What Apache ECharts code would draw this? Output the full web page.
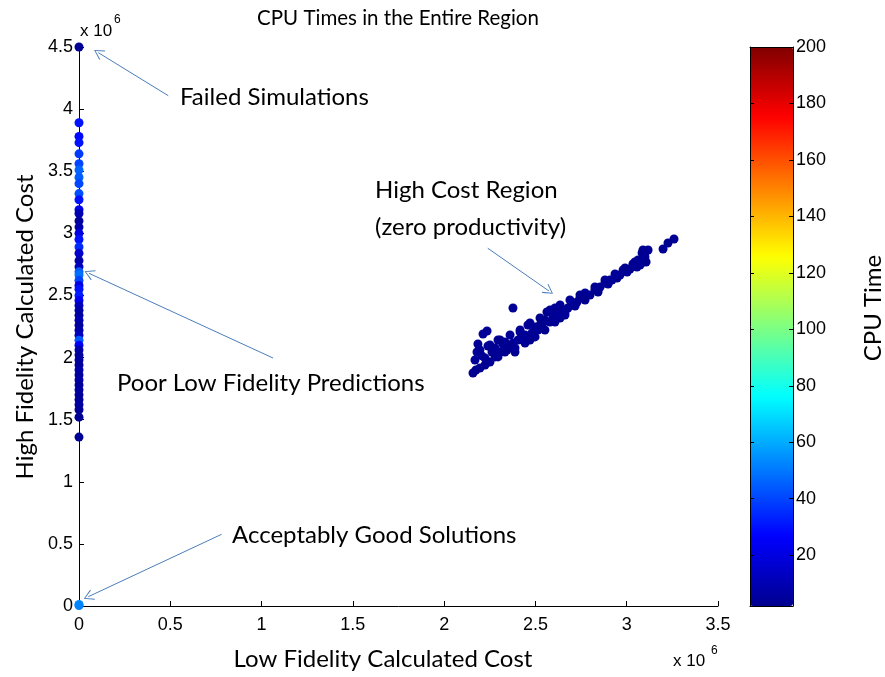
<!DOCTYPE html>
<html>
<head>
<meta charset="utf-8">
<script src="https://cdn.jsdelivr.net/npm/echarts@6/dist/echarts.min.js"></script>
<style>
  html, body { margin: 0; padding: 0; background: #fff; }
  #chart { width: 885px; height: 677px; }
</style>
</head>
<body>
<div id="chart"></div>
<script>
// Costs are stored in millions; both axes carry an "x 10^6" multiplier.

// Designs whose low-fidelity cost is zero (they sit on the vertical axis)
const columnHighCost = [4.50, 3.89, 3.78, 3.73, 3.64, 3.56, 3.51, 3.45, 3.40, 3.32,
  3.27, 3.19, 3.16, 3.10, 3.05, 3.00, 2.95, 2.89, 2.84, 2.78,
  2.73, 2.69, 2.665, 2.62, 2.58, 2.55, 2.50, 2.46, 2.42, 2.38,
  2.34, 2.30, 2.26, 2.22, 2.18, 2.14, 2.10, 2.06, 2.02, 1.98,
  1.94, 1.90, 1.86, 1.82, 1.78, 1.74, 1.70, 1.66, 1.62, 1.58,
  1.52, 1.36, 0.012, 0.004];
const columnCpuTime = [3, 30, 28, 30, 38, 40, 46, 45, 40, 42,
  30, 22, 10, 5, 8, 20, 30, 35, 15, 8,
  12, 45, 48, 40, 20, 30, 32, 25, 12, 8,
  6, 10, 5, 8, 12, 44, 25, 8, 5, 6,
  4, 8, 5, 7, 4, 6, 5, 4, 6, 4,
  3, 3, 55, 52];

// High cost region (zero productivity)
const regionLowCost = [3.259, 3.226, 3.199, 3.100, 3.084, 3.062, 3.073, 3.056, 3.089, 3.018,
  2.980, 2.963, 2.947, 2.908, 2.881, 2.854, 2.843, 2.799, 2.772, 2.761,
  2.728, 2.700, 2.744, 2.662, 2.635, 2.607, 2.596, 2.563, 2.541, 2.514,
  2.481, 2.470, 2.459, 2.432, 2.416, 2.388, 2.377, 2.377, 2.344, 2.333,
  2.295, 2.295, 2.262, 2.235, 2.213, 2.224, 2.224, 2.185, 2.196, 2.169,
  2.158, 2.251, 2.306, 2.361, 2.405, 2.443, 2.498, 2.552, 2.580, 2.618,
  2.678, 2.826, 2.919, 3.002, 2.180, 2.174, 2.279, 2.322, 2.525, 2.646,
  2.898, 3.034, 3.106, 2.207, 2.240,
  2.279, 2.333, 2.388, 2.443, 2.498, 2.552, 2.607, 2.662, 2.717, 2.772,
  2.196, 2.251, 2.306, 2.361, 2.416, 2.470, 2.525, 2.580, 2.635, 2.689,
  2.744, 2.826, 2.881, 2.936, 2.991, 3.045, 3.117, 3.089, 3.106];
const regionHighCost = [2.954, 2.922, 2.874, 2.810, 2.842, 2.785, 2.745, 2.729, 2.769, 2.713,
  2.705, 2.665, 2.640, 2.624, 2.600, 2.568, 2.528, 2.504, 2.520, 2.479,
  2.447, 2.439, 2.479, 2.367, 2.318, 2.399, 2.327, 2.367, 2.278, 2.222,
  2.198, 2.141, 2.262, 2.166, 2.206, 2.045, 2.117, 2.399, 2.061, 2.125,
  2.141, 2.005, 2.045, 2.214, 2.190, 1.996, 1.940, 2.109, 1.916, 1.980,
  1.876, 1.964, 2.045, 2.093, 2.141, 2.182, 2.246, 2.302, 2.286, 2.343,
  2.399, 2.544, 2.624, 2.689, 2.045, 1.900, 2.077, 2.109, 2.262, 2.383,
  2.592, 2.753, 2.769, 2.013, 2.093,
  2.005, 2.045, 2.077, 2.117, 2.166, 2.222, 2.286, 2.343, 2.415, 2.463,
  2.061, 2.101, 2.141, 2.182, 2.222, 2.278, 2.318, 2.383, 2.423, 2.463,
  2.504, 2.568, 2.624, 2.673, 2.721, 2.769, 2.866, 2.866, 2.858];
const regionCpuTime = [3, 2, 3, 4, 3, 2, 3, 3, 4, 2,
  3, 3, 2, 4, 3, 3, 2, 3, 4, 3,
  2, 3, 3, 4, 2, 3, 3, 2, 4, 3,
  3, 2, 3, 3, 4, 2, 3, 3, 2, 4,
  3, 3, 2, 3, 4, 3, 2, 3, 3, 4,
  2, 3, 3, 2, 4, 3, 3, 2, 3, 4,
  3, 2, 3, 3, 4, 2, 3, 3, 2, 3,
  4, 3, 2, 3, 3,
  3, 2, 4, 3, 3, 2, 3, 4, 3, 2,
  3, 3, 2, 4, 3, 3, 2, 3, 3, 4,
  2, 3, 3, 4, 2, 3, 3, 2, 3];

// Colour scale range for CPU time
const cpuRange = [2, 200];
// Jet colour map stops (evenly spaced)
const jetStops = ['#00008f', '#0000ff', '#0080ff', '#00ffff', '#80ff80',
  '#ffff00', '#ff8000', '#ff0000', '#800000'];

// Annotation arrows: [tail, head] in data units
const arrows = [
  [[0.489, 4.108], [0.106, 4.454]],
  [[1.063, 1.996], [0.055, 2.678]],
  [[2.239, 2.880], [2.574, 2.536]],
  [[0.781, 0.577], [0.051, 0.075]]
];

const columnData = columnHighCost.map((h, i) => [0, h, columnCpuTime[i]]);
const regionData = regionLowCost.map((l, i) => [l, regionHighCost[i], regionCpuTime[i]]);

const chart = echarts.init(document.getElementById('chart'), null, { renderer: 'canvas' });

const tickFont = { fontFamily: 'Liberation Sans', fontSize: 18, color: '#000' };
const textFont = 'Lato';
const arrowHead = 'path://M0,0 L-6,11 L-5,11.6 L0,2 L5,11.6 L6,11 Z';

function label(text, x, y, size, opts) {
  return Object.assign({
    type: 'text', x: x, y: y,
    style: { text: text, font: size + 'px ' + textFont, fill: '#000', align: 'left', verticalAlign: 'middle' }
  }, opts || {});
}

const option = {
  animation: false,
  backgroundColor: '#fff',
  grid: [
    { left: 79, top: 47, width: 639, height: 559, containLabel: false, outerBoundsMode: 'none' },
    { left: 750, top: 47, width: 43, height: 559, containLabel: false, outerBoundsMode: 'none' }
  ],
  xAxis: [
    {
      gridIndex: 0, type: 'value', min: 0, max: 3.5, interval: 0.5,
      axisLine: { show: true, onZero: false, lineStyle: { color: '#000', width: 1 } },
      axisTick: { show: true, inside: true, length: 5, lineStyle: { color: '#000' } },
      axisLabel: Object.assign({ margin: 10 }, tickFont),
      splitLine: { show: false }
    },
    {
      gridIndex: 1, type: 'value', min: 0, max: 1, position: 'bottom', z: 10,
      axisLine: { show: true, onZero: false, lineStyle: { color: '#000', width: 1 } },
      axisTick: { show: false }, axisLabel: { show: false }, splitLine: { show: false }
    },
    {
      gridIndex: 1, type: 'value', min: 0, max: 1, position: 'top', z: 10,
      axisLine: { show: true, onZero: false, lineStyle: { color: '#000', width: 1 } },
      axisTick: { show: false }, axisLabel: { show: false }, splitLine: { show: false }
    }
  ],
  yAxis: [
    {
      gridIndex: 0, type: 'value', min: 0, max: 4.5, interval: 0.5,
      axisLine: { show: true, onZero: false, lineStyle: { color: '#000', width: 1 } },
      axisTick: { show: true, inside: true, length: 5, lineStyle: { color: '#000' } },
      axisLabel: Object.assign({ margin: 6 }, tickFont),
      splitLine: { show: false }
    },
    {
      gridIndex: 1, type: 'value', min: cpuRange[0], max: cpuRange[1], splitNumber: 10,
      position: 'right', z: 10,
      axisLine: { show: true, onZero: false, lineStyle: { color: '#000', width: 1 } },
      axisTick: { show: true, inside: true, length: 4, lineStyle: { color: '#000' } },
      axisLabel: Object.assign({ margin: 3, formatter: v => (v % 20 === 0 ? String(v) : '') }, tickFont),
      splitLine: { show: false }
    },
    {
      gridIndex: 1, type: 'value', min: cpuRange[0], max: cpuRange[1], splitNumber: 10,
      position: 'left', z: 10,
      axisLine: { show: true, onZero: false, lineStyle: { color: '#000', width: 1 } },
      axisTick: { show: true, inside: true, length: 4, lineStyle: { color: '#000' } },
      axisLabel: { show: false },
      splitLine: { show: false }
    }
  ],
  visualMap: {
    type: 'continuous',
    min: cpuRange[0], max: cpuRange[1],
    dimension: 2,
    seriesIndex: [0, 1],
    calculable: false,
    hoverLink: false,
    left: 750, top: 47,
    padding: 0,
    itemWidth: 43, itemHeight: 559,
    text: null,
    showLabel: false,
    inRange: { color: jetStops }
  },
  series: [
    {
      type: 'scatter', xAxisIndex: 0, yAxisIndex: 0,
      symbol: 'circle', symbolSize: 9, clip: false,
      itemStyle: { opacity: 1 },
      data: columnData
    },
    {
      type: 'scatter', xAxisIndex: 0, yAxisIndex: 0,
      symbol: 'circle', symbolSize: 9, clip: false,
      itemStyle: { opacity: 1 },
      data: regionData
    },
    {
      type: 'scatter', xAxisIndex: 0, yAxisIndex: 0, data: [], silent: true,
      markLine: {
        silent: true,
        symbol: ['none', arrowHead],
        symbolSize: [11, 10],
        label: { show: false },
        lineStyle: { color: '#4a7ebb', width: 1, type: 'solid' },
        emphasis: { disabled: true },
        data: arrows.map(a => [{ coord: a[0] }, { coord: a[1] }])
      }
    }
  ],
  graphic: [
    label('CPU Times in the Entire Region', 398, 18, 20.5, { style: { text: 'CPU Times in the Entire Region', font: '20.5px ' + textFont, fill: '#000', align: 'center', verticalAlign: 'middle' } }),
    label('Low Fidelity Calculated Cost', 383, 659, 24, { style: { text: 'Low Fidelity Calculated Cost', font: '24px ' + textFont, fill: '#000', align: 'center', verticalAlign: 'middle' } }),
    label('High Fidelity Calculated Cost', 25, 327, 24, { rotation: Math.PI / 2, style: { text: 'High Fidelity Calculated Cost', font: '24px ' + textFont, fill: '#000', align: 'center', verticalAlign: 'middle' } }),
    label('CPU Time', 873, 308, 24, { rotation: Math.PI / 2, style: { text: 'CPU Time', font: '24px ' + textFont, fill: '#000', align: 'center', verticalAlign: 'middle' } }),
    label('Failed Simulations', 180, 97, 24),
    label('Poor Low Fidelity Predictions', 117, 383, 24),
    label('High Cost Region', 375, 190, 24),
    label('(zero productivity)', 375, 227, 24),
    label('Acceptably Good Solutions', 232, 535, 24),
    { type: 'text', x: 80, y: 31, style: { text: 'x 10', font: '17px Liberation Sans', fill: '#000', align: 'left', verticalAlign: 'middle' } },
    { type: 'text', x: 114, y: 20, style: { text: '6', font: '12px Liberation Sans', fill: '#000', align: 'left', verticalAlign: 'middle' } },
    { type: 'text', x: 673, y: 661, style: { text: 'x 10', font: '17px Liberation Sans', fill: '#000', align: 'left', verticalAlign: 'middle' } },
    { type: 'text', x: 711, y: 651, style: { text: '6', font: '12px Liberation Sans', fill: '#000', align: 'left', verticalAlign: 'middle' } }
  ]
};

chart.setOption(option);
</script>
</body>
</html>
